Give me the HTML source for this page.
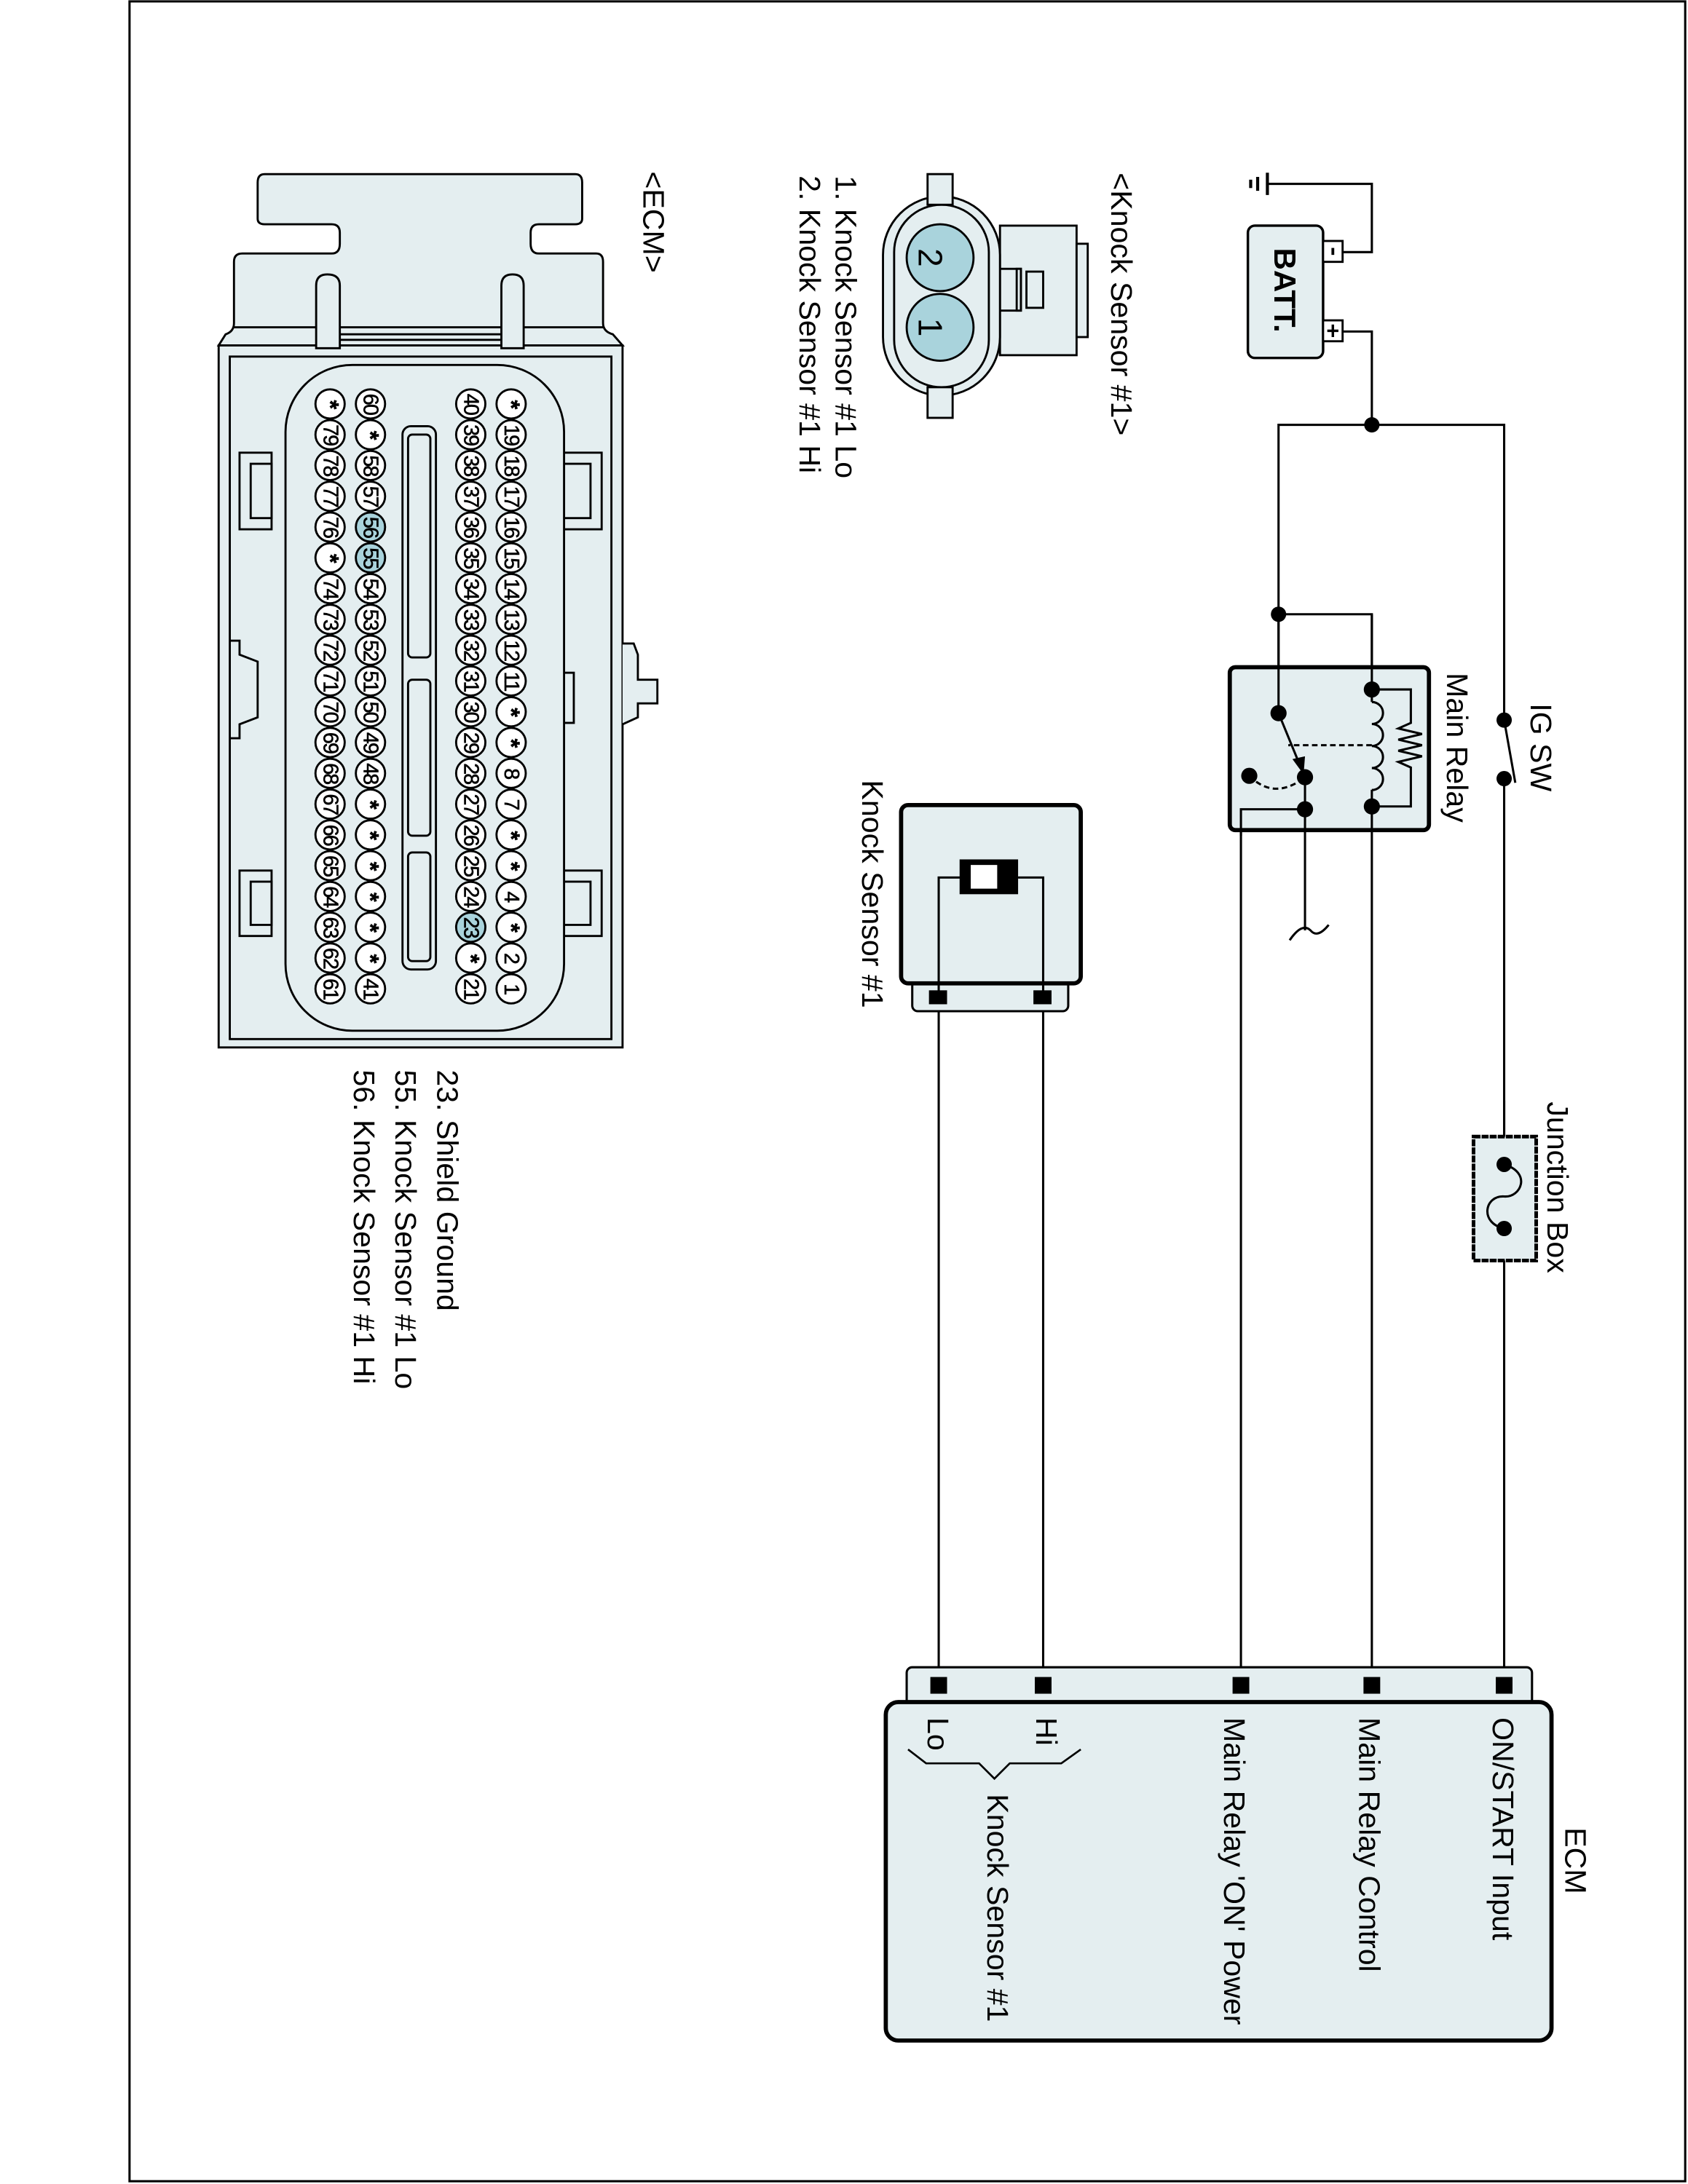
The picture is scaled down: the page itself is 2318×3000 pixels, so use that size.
<!DOCTYPE html>
<html><head><meta charset="utf-8">
<style>
html,body{margin:0;padding:0;background:#fff;}
svg{display:block;}
text{font-family:"Liberation Sans",sans-serif;fill:#000;}
.lbl{font-size:21.5px;}
.pin circle{fill:#fff;stroke:#000;stroke-width:1.5;}
.pin.h circle{fill:#a9d3dc;}
.pin text{font-size:15px;text-anchor:middle;dominant-baseline:central;letter-spacing:-1px;stroke:#000;stroke-width:0.3;}
.pin text.s{font-size:17px;font-weight:bold;}
</style></head>
<body>
<svg width="2318" height="3000" viewBox="0 0 1212 1568" preserveAspectRatio="none" xmlns="http://www.w3.org/2000/svg">
<rect x="0" y="0" width="1212" height="1568" fill="#fff"/>
<rect x="93" y="1" width="1117" height="1565" fill="none" stroke="#000" stroke-width="1.6"/>

<g fill="none" stroke="#000" stroke-width="1.6">
<polyline points="910,132 985,132 985,181 964,181"/>
<polyline points="964,238 985,238 985,305"/>
<polyline points="918,441 918,305 1080,305 1080,517"/>
<polyline points="918,441 985,441 985,1210"/>
<line x1="918" y1="441" x2="918" y2="512"/>
<line x1="1080" y1="559" x2="1080" y2="1210"/>
<line x1="891" y1="581" x2="891" y2="1210"/>
<line x1="674" y1="716" x2="674" y2="1210"/>
<line x1="749" y1="716" x2="749" y2="1210"/>
</g>
<g stroke="#000" stroke-width="2.2">
<line x1="910" y1="124" x2="910" y2="140"/>
<line x1="903" y1="127" x2="903" y2="137"/>
<line x1="898" y1="129" x2="898" y2="135"/>
</g>
<rect x="896" y="162" width="54" height="95" rx="5" fill="#e4eef0" stroke="#000" stroke-width="1.8"/>
<rect x="950" y="173" width="14" height="15" fill="#fff" stroke="#000" stroke-width="1.5"/>
<rect x="950" y="230" width="14" height="15" fill="#fff" stroke="#000" stroke-width="1.5"/>
<line x1="957" y1="178" x2="957" y2="183" stroke="#000" stroke-width="2"/>
<line x1="957" y1="233" x2="957" y2="242" stroke="#000" stroke-width="1.8"/>
<line x1="953" y1="237.5" x2="961" y2="237.5" stroke="#000" stroke-width="1.8"/>
<text transform="translate(915,178) rotate(90)" style="font-size:22px;font-weight:bold">BATT.</text>
<circle cx="985" cy="305" r="5.5" fill="#000"/>
<circle cx="918" cy="441" r="5.5" fill="#000"/>

<rect x="883" y="479" width="143" height="117" rx="4" fill="#e4eef0" stroke="#000" stroke-width="3"/>
<g fill="none" stroke="#000" stroke-width="1.6">
<line x1="918" y1="441" x2="918" y2="512"/>
<line x1="985" y1="441" x2="985" y2="504"/>
<path d="M985,504 a8,7.9 0 0 1 0,15.8 a8,7.9 0 0 1 0,15.8 a8,7.9 0 0 1 0,15.8 a8,7.9 0 0 1 0,15.8"/>
<line x1="985" y1="567" x2="985" y2="596"/>
<polyline points="985,495 1013,495 1013,519 1004,523 1021,527 1004,531 1021,535 1004,539 1021,543 1004,547 1013,551 1013,579 985,579"/>
<line x1="985" y1="535" x2="925" y2="535" stroke-dasharray="4,2.5"/>
<path d="M897,557 Q915,575 937,558" stroke-dasharray="4,2.5"/>
<line x1="918" y1="512" x2="934" y2="551"/>
<line x1="937" y1="558" x2="937" y2="668"/>
<path d="M926,675 Q935,662 941,668 Q946,674 954,664"/>
<polyline points="937,581 891,581 891,600"/>
</g>
<polygon points="936,556 928,545 937,543" fill="#000"/>
<circle cx="918" cy="512" r="5.8" fill="#000"/>
<circle cx="937" cy="558" r="5.8" fill="#000"/>
<circle cx="897" cy="557" r="5.8" fill="#000"/>
<circle cx="937" cy="581" r="5.8" fill="#000"/>
<circle cx="985" cy="495" r="5.8" fill="#000"/>
<circle cx="985" cy="579" r="5.8" fill="#000"/>
<text class="lbl" transform="translate(1039,483) rotate(90)">Main Relay</text>

<line x1="1080" y1="517" x2="1088" y2="562" stroke="#000" stroke-width="1.6"/>
<circle cx="1080" cy="517" r="5.5" fill="#000"/>
<circle cx="1080" cy="559" r="5.5" fill="#000"/>
<text class="lbl" transform="translate(1099,505) rotate(90)">IG SW</text>

<rect x="1058" y="816" width="45" height="89" fill="#e4eef0" stroke="#000" stroke-width="2.6" stroke-dasharray="5,0.8"/>
<line x1="1080" y1="790" x2="1080" y2="816" stroke="#000" stroke-width="1.6"/>
<path d="M1080,836 C1100,842 1092,860 1080,859 C1066,858 1062,878 1080,882" fill="none" stroke="#000" stroke-width="1.6"/>
<circle cx="1080" cy="836" r="5.5" fill="#000"/>
<circle cx="1080" cy="882" r="5.5" fill="#000"/>
<text class="lbl" transform="translate(1111,791) rotate(90)">Junction Box</text>

<rect x="655" y="704" width="112" height="22" rx="4" fill="#e4eef0" stroke="#000" stroke-width="1.6"/>
<rect x="647" y="578" width="129" height="128" rx="5" fill="#e4eef0" stroke="#000" stroke-width="3"/>
<polyline points="674,716 674,630 690,630" fill="none" stroke="#000" stroke-width="1.6"/>
<polyline points="749,716 749,630 731,630" fill="none" stroke="#000" stroke-width="1.6"/>
<rect x="689" y="617" width="42" height="25" fill="#000"/>
<rect x="697" y="621" width="19" height="17" fill="#fff"/>
<rect x="667" y="711" width="13" height="10" fill="#000"/>
<rect x="742" y="711" width="13" height="10" fill="#000"/>
<text class="lbl" transform="translate(619,560) rotate(90)">Knock Sensor #1</text>

<rect x="651" y="1197" width="449" height="28" rx="4" fill="#e4eef0" stroke="#000" stroke-width="1.6"/>
<rect x="636" y="1222" width="478" height="243" rx="9" fill="#e4eef0" stroke="#000" stroke-width="3"/>
<rect x="668" y="1204" width="12" height="12" fill="#000"/>
<rect x="743" y="1204" width="12" height="12" fill="#000"/>
<rect x="885" y="1204" width="12" height="12" fill="#000"/>
<rect x="979" y="1204" width="12" height="12" fill="#000"/>
<rect x="1074" y="1204" width="12" height="12" fill="#000"/>
<text class="lbl" transform="translate(1124,1312) rotate(90)">ECM</text>
<text class="lbl" transform="translate(1072,1233) rotate(90)">ON/START Input</text>
<text class="lbl" transform="translate(976,1233) rotate(90)">Main Relay Control</text>
<text class="lbl" transform="translate(879,1233) rotate(90)">Main Relay 'ON' Power</text>
<text class="lbl" transform="translate(744,1233) rotate(90)">Hi</text>
<text class="lbl" transform="translate(666,1233) rotate(90)">Lo</text>
<polyline points="652,1256 665,1266 703,1266 714,1277 725,1266 762,1266 776,1256" fill="none" stroke="#000" stroke-width="1.4"/>
<text class="lbl" transform="translate(709,1288) rotate(90)">Knock Sensor #1</text>

<text class="lbl" transform="translate(798,124) rotate(90)">&lt;Knock Sensor #1&gt;</text>
<text class="lbl" transform="translate(600,126) rotate(90)">1. Knock Sensor #1 Lo</text>
<text class="lbl" transform="translate(574,126) rotate(90)">2. Knock Sensor #1 Hi</text>
<g stroke="#000" stroke-width="1.5" fill="#e4eef0">
<rect x="718" y="162" width="55" height="93"/>
<rect x="773" y="175" width="8" height="67"/>
<rect x="737" y="195" width="12" height="26"/>
<rect x="718" y="193" width="15" height="30"/>
<rect x="730" y="193" width="3" height="30"/>
<rect x="634" y="141" width="84" height="143" rx="42"/>
<rect x="642" y="147" width="68" height="131" rx="34"/>
<rect x="666" y="125" width="18" height="22"/>
<rect x="666" y="278" width="18" height="22"/>
<circle cx="675" cy="185" r="24" fill="#a9d3dc"/>
<circle cx="675" cy="235" r="24" fill="#a9d3dc"/>
</g>
<text transform="translate(668,185) rotate(90)" style="font-size:24px;text-anchor:middle;dominant-baseline:central">2</text>
<text transform="translate(668,235) rotate(90)" style="font-size:24px;text-anchor:middle;dominant-baseline:central">1</text>

<text class="lbl" transform="translate(462,123) rotate(90)">&lt;ECM&gt;</text>
<g stroke="#000" stroke-width="1.5" fill="#e4eef0">
<path d="M190,125 L413,125 Q418,125 418,131 L418,157 Q418,161 413,161 L387,161 Q381,161 381,167 L381,175 Q381,182 387,182 L428,182 Q433,182 433,188 L433,232 Q433,238 440,240 L447,248 L157,248 L162,240 Q168,238 168,232 L168,188 Q168,182 174,182 L238,182 Q244,182 244,175 L244,167 Q244,161 238,161 L190,161 Q185,161 185,157 L185,131 Q185,125 190,125 Z"/>
<rect x="157" y="248" width="290" height="504"/>
<rect x="165" y="256" width="274" height="490" fill="none"/>
<line x1="168" y1="235" x2="433" y2="235" fill="none"/>
<line x1="244" y1="240" x2="360" y2="240" fill="none"/>
<line x1="244" y1="244" x2="360" y2="244" fill="none"/>
<path d="M227,250 L227,205 Q227,197 235,197 Q244,197 244,205 L244,250 Z"/>
<path d="M360,250 L360,205 Q360,197 368,197 Q376,197 376,205 L376,250 Z"/>
<path d="M172,325 L195,325 L195,380 L172,380 Z"/>
<path d="M180,333 L195,333 L195,372 L180,372 Z" fill="none"/>
<path d="M172,625 L195,625 L195,672 L172,672 Z"/>
<path d="M180,633 L195,633 L195,664 L180,664 Z" fill="none"/>
<path d="M405,325 L432,325 L432,380 L405,380 Z"/>
<path d="M405,333 L424,333 L424,372 L405,372 Z" fill="none"/>
<path d="M405,625 L432,625 L432,672 L405,672 Z"/>
<path d="M405,633 L424,633 L424,664 L405,664 Z" fill="none"/>
<path d="M165,460 L172,460 L172,470 L185,475 L185,515 L172,520 L172,530 L165,530" fill="none"/>
<path d="M447,462 L455,462 L458,470 L458,488 L472,488 L472,505 L458,505 L458,515 L447,520" />
<rect x="400" y="483" width="12" height="36"/>
<rect x="205" y="262" width="200" height="478" rx="48"/>
<rect x="289" y="306" width="24" height="390" rx="6"/>
<rect x="293" y="312" width="16" height="160" rx="3" fill="none"/>
<rect x="293" y="488" width="16" height="112" rx="3" fill="none"/>
<rect x="293" y="612" width="16" height="78" rx="3" fill="none"/>
</g>

<g class="pin"><g transform="translate(367,290) rotate(90)"><circle r="10.5"/><text class="s">*</text></g></g>
<g class="pin"><g transform="translate(367,312.1) rotate(90)"><circle r="10.5"/><text>19</text></g></g>
<g class="pin"><g transform="translate(367,334.2) rotate(90)"><circle r="10.5"/><text>18</text></g></g>
<g class="pin"><g transform="translate(367,356.3) rotate(90)"><circle r="10.5"/><text>17</text></g></g>
<g class="pin"><g transform="translate(367,378.4) rotate(90)"><circle r="10.5"/><text>16</text></g></g>
<g class="pin"><g transform="translate(367,400.5) rotate(90)"><circle r="10.5"/><text>15</text></g></g>
<g class="pin"><g transform="translate(367,422.6) rotate(90)"><circle r="10.5"/><text>14</text></g></g>
<g class="pin"><g transform="translate(367,444.7) rotate(90)"><circle r="10.5"/><text>13</text></g></g>
<g class="pin"><g transform="translate(367,466.8) rotate(90)"><circle r="10.5"/><text>12</text></g></g>
<g class="pin"><g transform="translate(367,488.9) rotate(90)"><circle r="10.5"/><text>11</text></g></g>
<g class="pin"><g transform="translate(367,511) rotate(90)"><circle r="10.5"/><text class="s">*</text></g></g>
<g class="pin"><g transform="translate(367,533.1) rotate(90)"><circle r="10.5"/><text class="s">*</text></g></g>
<g class="pin"><g transform="translate(367,555.2) rotate(90)"><circle r="10.5"/><text>8</text></g></g>
<g class="pin"><g transform="translate(367,577.3) rotate(90)"><circle r="10.5"/><text>7</text></g></g>
<g class="pin"><g transform="translate(367,599.4) rotate(90)"><circle r="10.5"/><text class="s">*</text></g></g>
<g class="pin"><g transform="translate(367,621.5) rotate(90)"><circle r="10.5"/><text class="s">*</text></g></g>
<g class="pin"><g transform="translate(367,643.6) rotate(90)"><circle r="10.5"/><text>4</text></g></g>
<g class="pin"><g transform="translate(367,665.7) rotate(90)"><circle r="10.5"/><text class="s">*</text></g></g>
<g class="pin"><g transform="translate(367,687.8) rotate(90)"><circle r="10.5"/><text>2</text></g></g>
<g class="pin"><g transform="translate(367,709.9) rotate(90)"><circle r="10.5"/><text>1</text></g></g>

<g class="pin"><g transform="translate(338,290) rotate(90)"><circle r="10.5"/><text>40</text></g></g>
<g class="pin"><g transform="translate(338,312.1) rotate(90)"><circle r="10.5"/><text>39</text></g></g>
<g class="pin"><g transform="translate(338,334.2) rotate(90)"><circle r="10.5"/><text>38</text></g></g>
<g class="pin"><g transform="translate(338,356.3) rotate(90)"><circle r="10.5"/><text>37</text></g></g>
<g class="pin"><g transform="translate(338,378.4) rotate(90)"><circle r="10.5"/><text>36</text></g></g>
<g class="pin"><g transform="translate(338,400.5) rotate(90)"><circle r="10.5"/><text>35</text></g></g>
<g class="pin"><g transform="translate(338,422.6) rotate(90)"><circle r="10.5"/><text>34</text></g></g>
<g class="pin"><g transform="translate(338,444.7) rotate(90)"><circle r="10.5"/><text>33</text></g></g>
<g class="pin"><g transform="translate(338,466.8) rotate(90)"><circle r="10.5"/><text>32</text></g></g>
<g class="pin"><g transform="translate(338,488.9) rotate(90)"><circle r="10.5"/><text>31</text></g></g>
<g class="pin"><g transform="translate(338,511) rotate(90)"><circle r="10.5"/><text>30</text></g></g>
<g class="pin"><g transform="translate(338,533.1) rotate(90)"><circle r="10.5"/><text>29</text></g></g>
<g class="pin"><g transform="translate(338,555.2) rotate(90)"><circle r="10.5"/><text>28</text></g></g>
<g class="pin"><g transform="translate(338,577.3) rotate(90)"><circle r="10.5"/><text>27</text></g></g>
<g class="pin"><g transform="translate(338,599.4) rotate(90)"><circle r="10.5"/><text>26</text></g></g>
<g class="pin"><g transform="translate(338,621.5) rotate(90)"><circle r="10.5"/><text>25</text></g></g>
<g class="pin"><g transform="translate(338,643.6) rotate(90)"><circle r="10.5"/><text>24</text></g></g>
<g class="pin h"><g transform="translate(338,665.7) rotate(90)"><circle r="10.5"/><text>23</text></g></g>
<g class="pin"><g transform="translate(338,687.8) rotate(90)"><circle r="10.5"/><text class="s">*</text></g></g>
<g class="pin"><g transform="translate(338,709.9) rotate(90)"><circle r="10.5"/><text>21</text></g></g>

<g class="pin"><g transform="translate(266,290) rotate(90)"><circle r="10.5"/><text>60</text></g></g>
<g class="pin"><g transform="translate(266,312.1) rotate(90)"><circle r="10.5"/><text class="s">*</text></g></g>
<g class="pin"><g transform="translate(266,334.2) rotate(90)"><circle r="10.5"/><text>58</text></g></g>
<g class="pin"><g transform="translate(266,356.3) rotate(90)"><circle r="10.5"/><text>57</text></g></g>
<g class="pin h"><g transform="translate(266,378.4) rotate(90)"><circle r="10.5"/><text>56</text></g></g>
<g class="pin h"><g transform="translate(266,400.5) rotate(90)"><circle r="10.5"/><text>55</text></g></g>
<g class="pin"><g transform="translate(266,422.6) rotate(90)"><circle r="10.5"/><text>54</text></g></g>
<g class="pin"><g transform="translate(266,444.7) rotate(90)"><circle r="10.5"/><text>53</text></g></g>
<g class="pin"><g transform="translate(266,466.8) rotate(90)"><circle r="10.5"/><text>52</text></g></g>
<g class="pin"><g transform="translate(266,488.9) rotate(90)"><circle r="10.5"/><text>51</text></g></g>
<g class="pin"><g transform="translate(266,511) rotate(90)"><circle r="10.5"/><text>50</text></g></g>
<g class="pin"><g transform="translate(266,533.1) rotate(90)"><circle r="10.5"/><text>49</text></g></g>
<g class="pin"><g transform="translate(266,555.2) rotate(90)"><circle r="10.5"/><text>48</text></g></g>
<g class="pin"><g transform="translate(266,577.3) rotate(90)"><circle r="10.5"/><text class="s">*</text></g></g>
<g class="pin"><g transform="translate(266,599.4) rotate(90)"><circle r="10.5"/><text class="s">*</text></g></g>
<g class="pin"><g transform="translate(266,621.5) rotate(90)"><circle r="10.5"/><text class="s">*</text></g></g>
<g class="pin"><g transform="translate(266,643.6) rotate(90)"><circle r="10.5"/><text class="s">*</text></g></g>
<g class="pin"><g transform="translate(266,665.7) rotate(90)"><circle r="10.5"/><text class="s">*</text></g></g>
<g class="pin"><g transform="translate(266,687.8) rotate(90)"><circle r="10.5"/><text class="s">*</text></g></g>
<g class="pin"><g transform="translate(266,709.9) rotate(90)"><circle r="10.5"/><text>41</text></g></g>

<g class="pin"><g transform="translate(237,290) rotate(90)"><circle r="10.5"/><text class="s">*</text></g></g>
<g class="pin"><g transform="translate(237,312.1) rotate(90)"><circle r="10.5"/><text>79</text></g></g>
<g class="pin"><g transform="translate(237,334.2) rotate(90)"><circle r="10.5"/><text>78</text></g></g>
<g class="pin"><g transform="translate(237,356.3) rotate(90)"><circle r="10.5"/><text>77</text></g></g>
<g class="pin"><g transform="translate(237,378.4) rotate(90)"><circle r="10.5"/><text>76</text></g></g>
<g class="pin"><g transform="translate(237,400.5) rotate(90)"><circle r="10.5"/><text class="s">*</text></g></g>
<g class="pin"><g transform="translate(237,422.6) rotate(90)"><circle r="10.5"/><text>74</text></g></g>
<g class="pin"><g transform="translate(237,444.7) rotate(90)"><circle r="10.5"/><text>73</text></g></g>
<g class="pin"><g transform="translate(237,466.8) rotate(90)"><circle r="10.5"/><text>72</text></g></g>
<g class="pin"><g transform="translate(237,488.9) rotate(90)"><circle r="10.5"/><text>71</text></g></g>
<g class="pin"><g transform="translate(237,511) rotate(90)"><circle r="10.5"/><text>70</text></g></g>
<g class="pin"><g transform="translate(237,533.1) rotate(90)"><circle r="10.5"/><text>69</text></g></g>
<g class="pin"><g transform="translate(237,555.2) rotate(90)"><circle r="10.5"/><text>68</text></g></g>
<g class="pin"><g transform="translate(237,577.3) rotate(90)"><circle r="10.5"/><text>67</text></g></g>
<g class="pin"><g transform="translate(237,599.4) rotate(90)"><circle r="10.5"/><text>66</text></g></g>
<g class="pin"><g transform="translate(237,621.5) rotate(90)"><circle r="10.5"/><text>65</text></g></g>
<g class="pin"><g transform="translate(237,643.6) rotate(90)"><circle r="10.5"/><text>64</text></g></g>
<g class="pin"><g transform="translate(237,665.7) rotate(90)"><circle r="10.5"/><text>63</text></g></g>
<g class="pin"><g transform="translate(237,687.8) rotate(90)"><circle r="10.5"/><text>62</text></g></g>
<g class="pin"><g transform="translate(237,709.9) rotate(90)"><circle r="10.5"/><text>61</text></g></g>

<text class="lbl" transform="translate(314,768) rotate(90)">23. Shield Ground</text>
<text class="lbl" transform="translate(284,768) rotate(90)">55. Knock Sensor #1 Lo</text>
<text class="lbl" transform="translate(254,768) rotate(90)">56. Knock Sensor #1 Hi</text>
</svg>
</body></html>
